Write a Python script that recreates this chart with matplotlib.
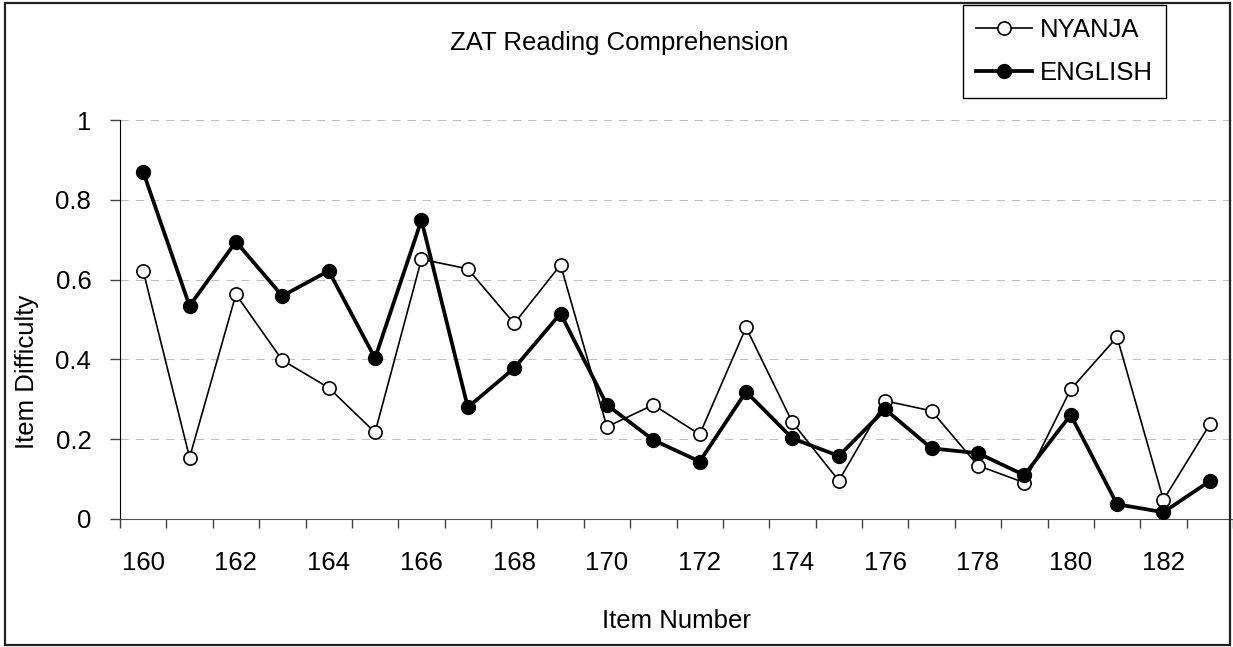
import numpy as np
import matplotlib
matplotlib.use('Agg')
import matplotlib.pyplot as plt
from matplotlib.patches import Rectangle

# item numbers and item difficulty per language
items = list(range(160, 184))
nyanja = [0.622, 0.154, 0.563, 0.398, 0.329, 0.217, 0.651, 0.627, 0.490, 0.637,
          0.231, 0.286, 0.212, 0.480, 0.242, 0.096, 0.296, 0.271, 0.134, 0.091,
          0.325, 0.456, 0.048, 0.237]
english = [0.870, 0.534, 0.695, 0.559, 0.622, 0.403, 0.749, 0.280, 0.378, 0.515,
           0.286, 0.198, 0.144, 0.319, 0.202, 0.158, 0.275, 0.177, 0.165, 0.110,
           0.261, 0.037, 0.017, 0.095]
yticks = [0, 0.2, 0.4, 0.6, 0.8, 1]
yticklabels = ['0', '0.2', '0.4', '0.6', '0.8', '1']

plt.rcParams['font.family'] = ['Liberation Sans', 'DejaVu Sans']
plt.rcParams['font.size'] = 18.5

W, H = 1233, 647
fig = plt.figure(figsize=(W/100, H/100), dpi=100)
ax = fig.add_axes([120/W, 1-519/H, 1113/W, 399/H])

x = np.arange(len(items))
ax.plot(x, nyanja, color='black', lw=1.2, marker='o', ms=9.5,
        mfc='white', mec='black', mew=1.2, label='NYANJA', zorder=3)
ax.plot(x, english, color='black', lw=2.7, marker='o', ms=10,
        mfc='black', mec='black', label='ENGLISH', zorder=4)

ax.set_xlim(-0.5, len(items)-0.5)
ax.set_ylim(0, 1)

# category boundaries get tick marks, even items get labels
ax.set_xticks(np.arange(-0.5, len(items), 1.0))
ax.set_xticklabels([])
ax.set_xticks(x[::2], minor=True)
ax.set_xticklabels([str(i) for i in items[::2]], minor=True)
ax.tick_params(axis='x', which='major', length=6.5, width=1, color='#404040')
ax.tick_params(axis='x', which='minor', length=0, pad=23)

ax.set_yticks(yticks)
ax.set_yticklabels(yticklabels)
ax.tick_params(axis='y', length=7.2, width=1, color='#404040', pad=13.5)

ax.grid(axis='y', color='#c0c0c0', lw=0.75, ls=(0, (8, 6.5)))
ax.set_axisbelow(True)

for s in ['top', 'right']:
    ax.spines[s].set_visible(False)
ax.spines['left'].set_color('black')
ax.spines['bottom'].set_color('#505050')

ax.set_xlabel('Item Number', va='center')
ax.xaxis.set_label_coords(0.5, -0.2556)
ax.set_ylabel('Item Difficulty', va='center')
ax.yaxis.set_label_coords(-0.0836, 0.368)

fig.text(619/W, 1-50/H, 'ZAT Reading Comprehension', ha='center', va='baseline')

leg = ax.legend(loc='upper left', bbox_to_anchor=(963/W, 1-5/H),
                bbox_transform=fig.transFigure, frameon=True, fancybox=False,
                edgecolor='black', framealpha=1, borderaxespad=0,
                handlelength=2.2, handletextpad=0.3, labelspacing=0.75,
                borderpad=0.5)
leg.get_frame().set_linewidth(1)

fig.patches.append(Rectangle((5/W, 2/H), 1225/W, 642/H, transform=fig.transFigure,
                             fill=False, edgecolor='#222222', lw=1.6))

fig.savefig('out.png', dpi=100)
